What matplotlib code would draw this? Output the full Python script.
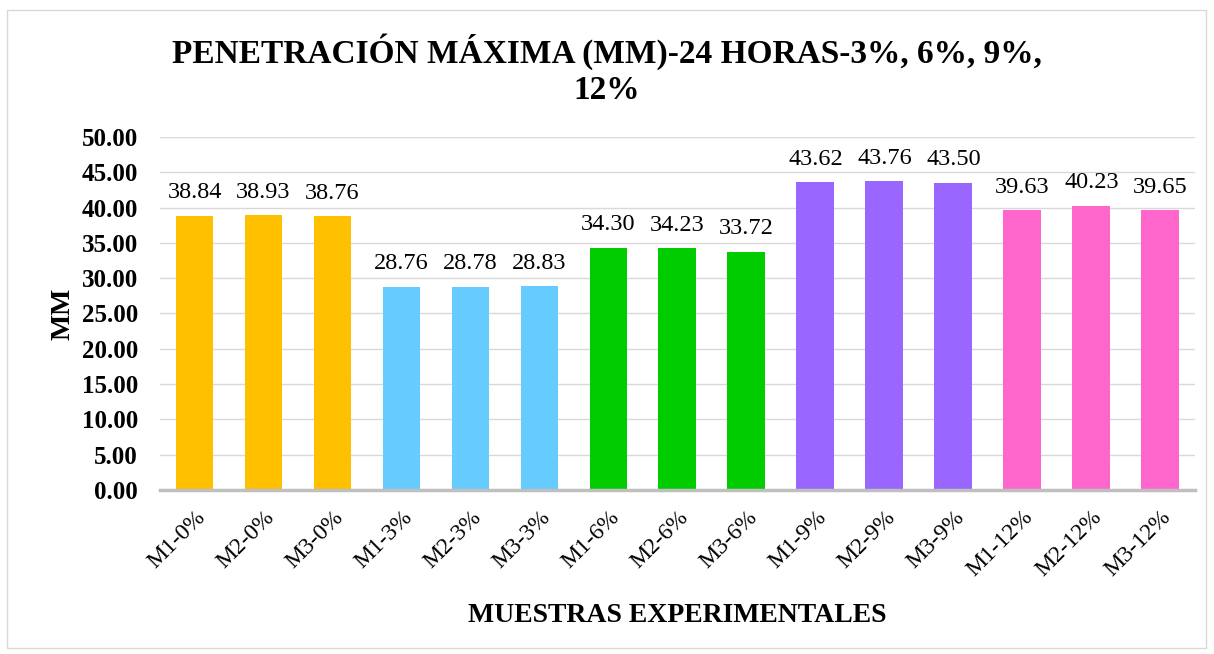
import matplotlib.pyplot as plt
from matplotlib.patches import Rectangle
from matplotlib.ticker import FormatStrFormatter

# sample names and max penetration (mm)
muestras = ["M1-0%", "M2-0%", "M3-0%", "M1-3%", "M2-3%", "M3-3%",
            "M1-6%", "M2-6%", "M3-6%", "M1-9%", "M2-9%", "M3-9%",
            "M1-12%", "M2-12%", "M3-12%"]
penetracion = [38.84, 38.93, 38.76, 28.76, 28.78, 28.83,
               34.30, 34.23, 33.72, 43.62, 43.76, 43.50,
               39.63, 40.23, 39.65]
colores = ["#FFC000"] * 3 + ["#66CCFF"] * 3 + ["#00CC00"] * 3 + \
          ["#9966FF"] * 3 + ["#FF66CC"] * 3

plt.rcParams['font.family'] = ['Liberation Serif', 'DejaVu Serif']

fig = plt.figure(figsize=(12.14, 6.54), dpi=100)
ax = fig.add_axes([0.1318, 0.2508, 0.8525, 0.5397])

x = range(len(muestras))
bars = ax.bar(x, penetracion, width=0.55, color=colores, zorder=3)
for b, v in zip(bars, penetracion):
    ax.annotate(f"{v:.2f}", (b.get_x() + b.get_width() / 2, v),
                xytext=(0, 9), textcoords="offset points",
                ha="center", va="bottom", fontsize=17.5)

ax.set_xlim(-0.5, len(muestras) - 0.5)
ax.set_ylim(0, 50)
ax.set_yticks(range(0, 51, 5))
ax.yaxis.set_major_formatter(FormatStrFormatter('%.2f'))
ax.grid(axis='y', color='#D9D9D9', linewidth=1, zorder=0)
for s in ['top', 'right', 'left']:
    ax.spines[s].set_visible(False)
ax.spines['bottom'].set_color('#BFBFBF')
ax.spines['bottom'].set_linewidth(2.5)
ax.spines['bottom'].set_zorder(4)
ax.tick_params(axis='both', length=0)
ax.tick_params(axis='y', labelsize=18, pad=16)
for t in ax.get_yticklabels():
    t.set_fontweight('bold')
ax.set_xticks(list(x))
ax.set_xticklabels(muestras, rotation=45, ha='right', rotation_mode='anchor', fontsize=17)
ax.tick_params(axis='x', pad=12)

ax.set_ylabel("MM", fontsize=20, fontweight='bold', labelpad=4)
ax.set_xlabel("MUESTRAS EXPERIMENTALES", fontsize=20, fontweight='bold', labelpad=16)

fig.text(0.5, 0.893, "PENETRACIÓN MÁXIMA (MM)-24 HORAS-3%, 6%, 9%,\n12%",
         ha='center', va='center', fontsize=24, fontweight='bold',
         linespacing=1.22)

fig.patches.append(Rectangle((7 / 1214, 1 - 648 / 654), 1199 / 1214, 638 / 654,
                             transform=fig.transFigure, fill=False,
                             edgecolor='#D9D9D9', linewidth=1))

plt.savefig('out.png')
